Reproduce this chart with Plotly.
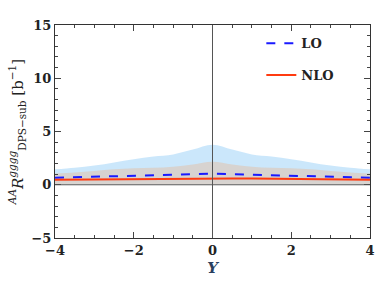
import plotly.graph_objects as go

Y = [-4, -3.5, -3, -2.5, -2, -1.5, -1, -0.5, 0, 0.5, 1, 1.5, 2, 2.5, 3, 3.5, 4]
lo = [0.65, 0.7, 0.75, 0.8, 0.85, 0.9, 0.95, 1.0, 1.05, 1.0, 0.95, 0.9, 0.85, 0.8, 0.75, 0.7, 0.65]
nlo = [0.47, 0.49, 0.51, 0.53, 0.55, 0.56, 0.58, 0.59, 0.6, 0.59, 0.58, 0.56, 0.55, 0.53, 0.51, 0.49, 0.47]
lo_hi = [1.45, 1.6, 1.8, 2.1, 2.4, 2.65, 2.85, 3.3, 3.75, 3.3, 2.85, 2.65, 2.4, 2.1, 1.8, 1.6, 1.45]
lo_lo = [0.2] * 17
nlo_hi = [1.05, 1.15, 1.3, 1.45, 1.55, 1.6, 1.7, 1.9, 2.15, 1.9, 1.7, 1.6, 1.55, 1.45, 1.3, 1.15, 1.05]
nlo_lo = [0.08] * 17

fig = go.Figure()
fig.add_trace(go.Scatter(x=Y, y=lo_lo, mode="lines", line=dict(width=0), showlegend=False, hoverinfo="skip"))
fig.add_trace(go.Scatter(x=Y, y=lo_hi, mode="lines", line=dict(width=0, shape="spline"), fill="tonexty",
                         fillcolor="rgba(190,225,250,0.8)", showlegend=False, hoverinfo="skip"))
fig.add_trace(go.Scatter(x=Y, y=nlo_lo, mode="lines", line=dict(width=0), showlegend=False, hoverinfo="skip"))
fig.add_trace(go.Scatter(x=Y, y=nlo_hi, mode="lines", line=dict(width=0, shape="spline"), fill="tonexty",
                         fillcolor="rgba(215,210,205,0.95)", showlegend=False, hoverinfo="skip"))
fig.add_trace(go.Scatter(x=Y, y=lo, mode="lines", name="LO", legendgroup="a",
                         line=dict(color="#1a1aff", width=2, dash="dash")))
fig.add_trace(go.Scatter(x=Y, y=nlo, mode="lines", name="NLO", legendgroup="b",
                         line=dict(color="#ff3b10", width=2)))

fig.add_shape(type="line", x0=0, x1=0, y0=-5, y1=15, line=dict(color="#555", width=1), layer="above")
fig.add_shape(type="line", x0=-4, x1=4, y0=0, y1=0, line=dict(color="#555", width=1), layer="above")

font = dict(family="DejaVu Serif", size=13, color="#222", weight="bold")
axcommon = dict(showgrid=False, zeroline=False, showline=True, linecolor="#333", linewidth=1,
                mirror="allticks", ticks="inside", tickcolor="#444", ticklen=6,
                tickfont=font, ticklabeloverflow="allow")
fig.update_xaxes(range=[-4, 4], tickvals=[-4, -2, 0, 2, 4], ticktext=["−4", "−2", "0", "2", "4"],
                 minor=dict(dtick=0.5, ticks="inside", ticklen=3, tickcolor="#444"),
                 title=dict(text="<i>Y</i>", font=dict(family="DejaVu Serif", size=15, weight="bold"), standoff=5),
                 **axcommon)
fig.update_yaxes(range=[-5, 15], tickvals=[-5, 0, 5, 10, 15], ticktext=["−5", "0", "5", "10", "15"],
                 minor=dict(dtick=1, ticks="inside", ticklen=3, tickcolor="#444"),
                 title=dict(text="<sup><i>AA</i></sup><i>R</i><sup><i>gggg</i></sup><sub>DPS−sub</sub> [b<sup>−1</sup>]",
                            font=dict(family="DejaVu Serif", size=15, color="#222"), standoff=4),
                 **axcommon)

fig.update_layout(width=381, height=290, margin=dict(l=55, r=6, t=25, b=52),
                  plot_bgcolor="white", paper_bgcolor="white",
                  legend=dict(x=0.655, y=0.985, xanchor="left", yanchor="top", bgcolor="rgba(0,0,0,0)",
                              font=dict(family="DejaVu Serif", size=13, color="#222", weight="bold"),
                              tracegroupgap=12, itemwidth=30))
fig.write_html("out.html", config={"displayModeBar": False},
               post_script="document.body.style.margin='0';")
